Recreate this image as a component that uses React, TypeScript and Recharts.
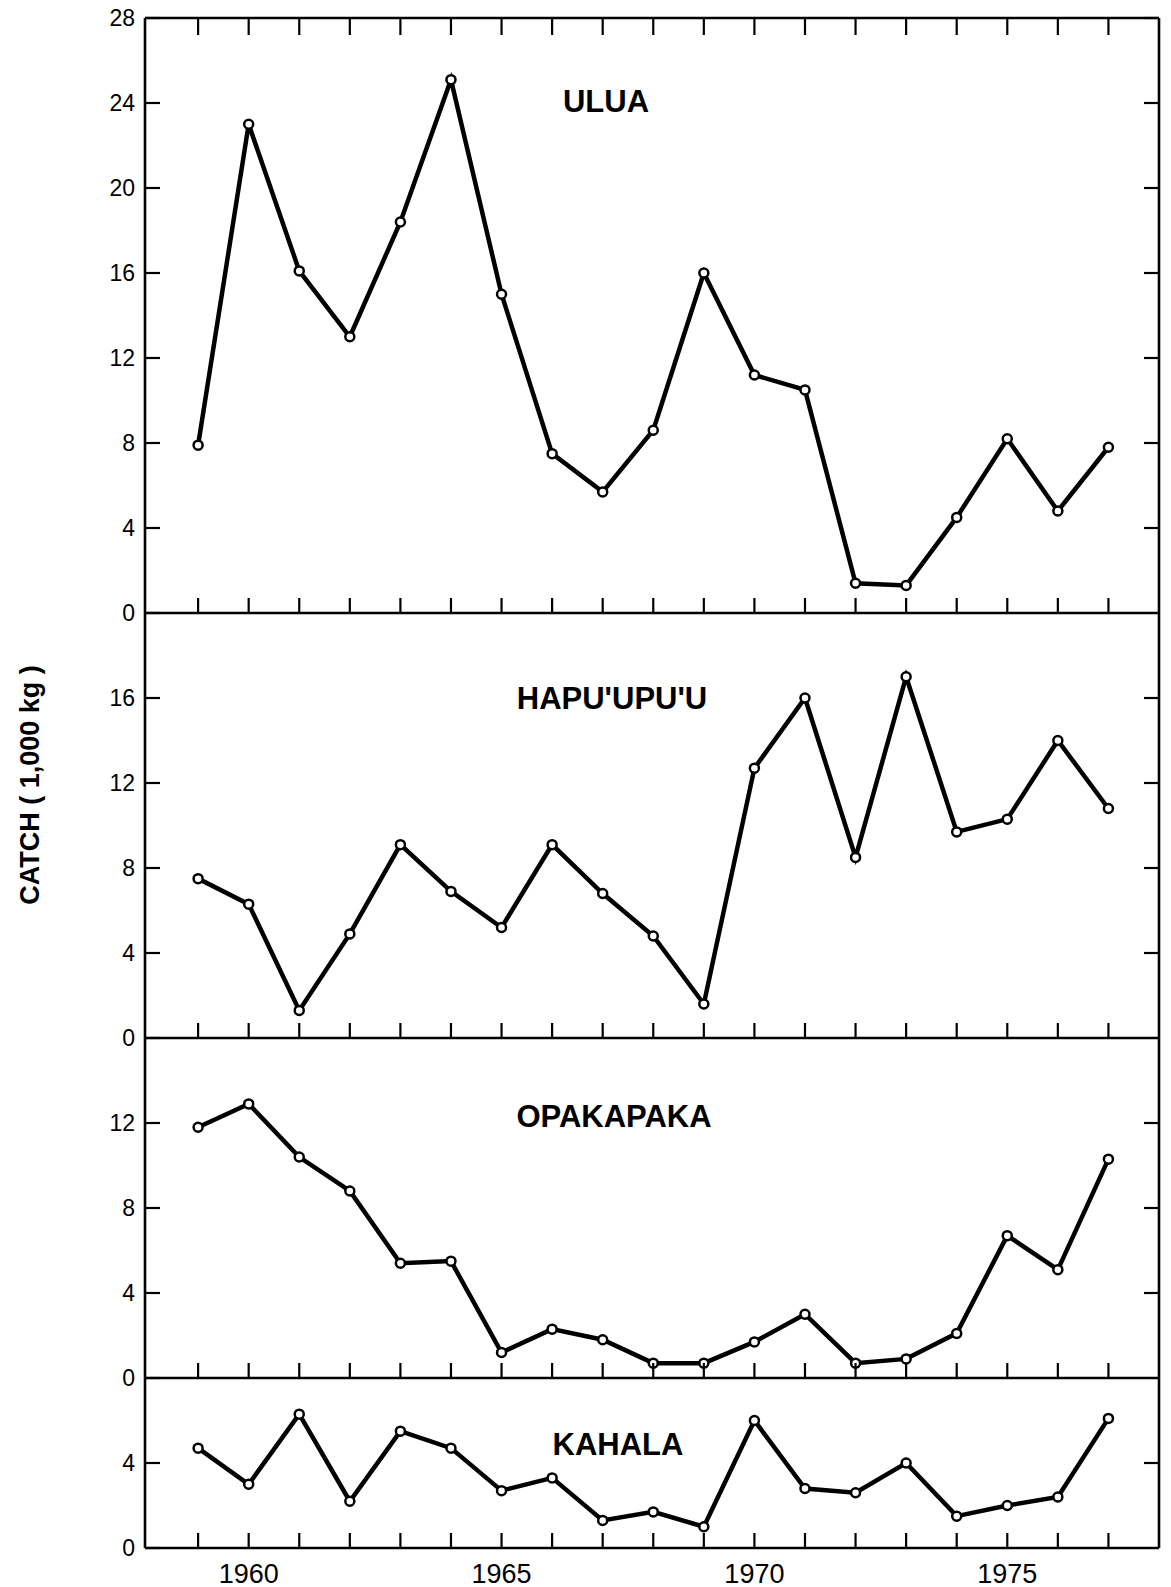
import React from "react";
import { LineChart, Line, XAxis, YAxis } from "recharts";

const years = [1959, 1960, 1961, 1962, 1963, 1964, 1965, 1966, 1967, 1968, 1969, 1970, 1971, 1972, 1973, 1974, 1975, 1976, 1977];
const yearLabels = [1960, 1965, 1970, 1975];

const ulua = [7.9, 23.0, 16.1, 13.0, 18.4, 25.1, 15.0, 7.5, 5.7, 8.6, 16.0, 11.2, 10.5, 1.4, 1.3, 4.5, 8.2, 4.8, 7.8];
const hapuupuu = [7.5, 6.3, 1.3, 4.9, 9.1, 6.9, 5.2, 9.1, 6.8, 4.8, 1.6, 12.7, 16.0, 8.5, 17.0, 9.7, 10.3, 14.0, 10.8];
const opakapaka = [11.8, 12.9, 10.4, 8.8, 5.4, 5.5, 1.2, 2.3, 1.8, 0.7, 0.7, 1.7, 3.0, 0.7, 0.9, 2.1, 6.7, 5.1, 10.3];
const kahala = [4.7, 3.0, 6.3, 2.2, 5.5, 4.7, 2.7, 3.3, 1.3, 1.7, 1.0, 6.0, 2.8, 2.6, 4.0, 1.5, 2.0, 2.4, 6.1];

const uluaTicks = [0, 4, 8, 12, 16, 20, 24, 28];
const hapuTicks = [0, 4, 8, 12, 16];
const opakaTicks = [0, 4, 8, 12];
const kahalaTicks = [0, 4];

const panels = [
  { name: "ULUA", values: ulua, max: 28, ticks: uluaTicks },
  { name: "HAPU'UPU'U", values: hapuupuu, max: 20, ticks: hapuTicks },
  { name: "OPAKAPAKA", values: opakapaka, max: 16, ticks: opakaTicks },
  { name: "KAHALA", values: kahala, max: 8, ticks: kahalaTicks },
];

// layout
const W = 1171;
const H = 1587;
const PLOT_LEFT = 145;
const PLOT_RIGHT = 1159;
const TOP0 = 18;
const UNIT = 21.25;
const PAD = 30;
const LEFT_AXIS_W = 60;
const RIGHT_AXIS_W = 10;
const X_DOMAIN: [number, number] = [1957.95, 1978.0];
const FONT = "'Liberation Sans', Arial, Helvetica, sans-serif";
const TICK_LEN = 15;
const TICK_W = 2.2;

const titleLayout = [
  { x: 606, y: 112 },
  { x: 612, y: 709 },
  { x: 614, y: 1127 },
  { x: 618, y: 1455 },
];

const BottomTick = (props: any) => {
  const { x, y, payload, showLabel } = props;
  return (
    <g>
      <line x1={x} x2={x} y1={y} y2={y - TICK_LEN} stroke="#000" strokeWidth={TICK_W} />
      {showLabel && yearLabels.includes(payload.value) && (
        <text x={x} y={y + 35} textAnchor="middle" fontSize={27} fontFamily={FONT} fill="#000">
          {payload.value}
        </text>
      )}
    </g>
  );
};

const TopTick = (props: any) => {
  const { x, y } = props;
  return <line x1={x} x2={x} y1={y} y2={y + TICK_LEN + 2} stroke="#000" strokeWidth={TICK_W} />;
};

const LeftTick = (props: any) => {
  const { x, y, payload } = props;
  return (
    <g>
      <line x1={x} x2={x + TICK_LEN} y1={y} y2={y} stroke="#000" strokeWidth={TICK_W} />
      <text x={x - 10} y={y} dy="0.36em" textAnchor="end" fontSize={23} fontFamily={FONT} fill="#000">
        {payload.value}
      </text>
    </g>
  );
};

const RightTick = (props: any) => {
  const { x, y } = props;
  return <line x1={x} x2={x - TICK_LEN} y1={y} y2={y} stroke="#000" strokeWidth={TICK_W} />;
};

const axisLine = { stroke: "#000", strokeWidth: 2.6 };

export default function App() {
  let top = TOP0;
  const charts = panels.map((p, idx) => {
    const plotTop = top;
    const plotH = p.max * UNIT;
    top += plotH;
    const isFirst = idx === 0;
    const isLast = idx === panels.length - 1;
    const padBottom = isLast ? 50 : PAD;
    const chartH = plotH + PAD + padBottom;
    const data = years.map((yr, i) => ({ year: yr, v: p.values[i] }));
    return (
      <div key={p.name} style={{ position: "absolute", left: 0, top: plotTop - PAD, width: W, height: chartH }}>
        <LineChart
          width={W}
          height={chartH}
          data={data}
          margin={{
            top: isFirst ? PAD - 1 : PAD,
            bottom: padBottom - 1,
            left: PLOT_LEFT - LEFT_AXIS_W,
            right: W - PLOT_RIGHT - RIGHT_AXIS_W,
          }}
        >
          <XAxis
            dataKey="year"
            type="number"
            domain={X_DOMAIN}
            ticks={years}
            interval={0}
            height={1}
            tickSize={0}
            tickMargin={0}
            tickLine={false}
            tick={<BottomTick showLabel={isLast} />}
            axisLine={axisLine}
            allowDataOverflow
          />
          {isFirst && (
            <XAxis
              xAxisId="top"
              orientation="top"
              dataKey="year"
              type="number"
              domain={X_DOMAIN}
              ticks={years}
              interval={0}
              height={1}
              tickSize={0}
              tickMargin={0}
              tickLine={false}
              tick={<TopTick />}
              axisLine={axisLine}
              allowDataOverflow
            />
          )}
          <YAxis
            yAxisId="l"
            type="number"
            domain={[0, p.max]}
            ticks={p.ticks}
            interval={0}
            width={LEFT_AXIS_W}
            tickSize={0}
            tickMargin={0}
            tickLine={false}
            tick={<LeftTick />}
            axisLine={axisLine}
            allowDataOverflow
          />
          <YAxis
            yAxisId="r"
            orientation="right"
            type="number"
            domain={[0, p.max]}
            ticks={p.ticks.filter((t) => t > 0)}
            interval={0}
            width={RIGHT_AXIS_W}
            tickSize={0}
            tickMargin={0}
            tickLine={false}
            tick={<RightTick />}
            axisLine={axisLine}
            allowDataOverflow
          />
          <Line
            yAxisId="l"
            dataKey="v"
            type="linear"
            stroke="#000"
            strokeWidth={4.5}
            dot={{ r: 4.5, fill: "#fff", stroke: "#000", strokeWidth: 2.5 }}
            isAnimationActive={false}
          />
        </LineChart>
      </div>
    );
  });

  return (
    <div style={{ position: "absolute", left: 0, top: 0, width: W, height: H, background: "#fff" }}>
      {charts}
      <svg width={W} height={H} style={{ position: "absolute", left: 0, top: 0, pointerEvents: "none" }}>
        {panels.map((p, i) => (
          <text
            key={p.name}
            x={titleLayout[i].x}
            y={titleLayout[i].y}
            textAnchor="middle"
            fontSize={31}
            fontWeight="bold"
            fontFamily={FONT}
            fill="#000"
          >
            {p.name}
          </text>
        ))}
        <text
          x={0}
          y={0}
          transform="translate(30,785) rotate(-90)"
          textAnchor="middle"
          dominantBaseline="central"
          fontSize={27}
          fontWeight="bold"
          fontFamily={FONT}
          fill="#000"
        >
          CATCH ( 1,000 kg )
        </text>
      </svg>
    </div>
  );
}
